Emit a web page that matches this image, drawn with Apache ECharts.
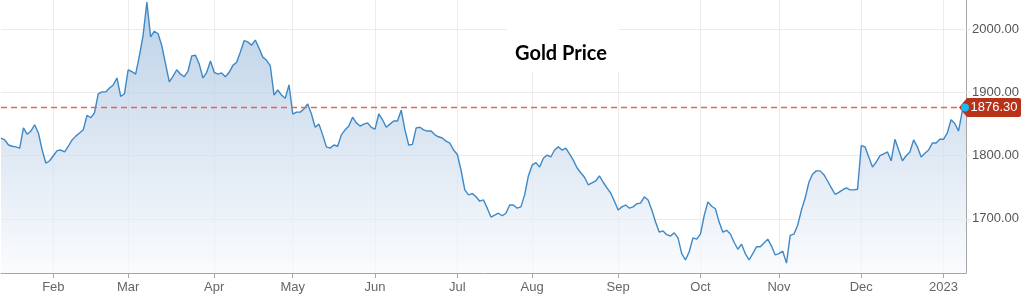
<!DOCTYPE html>
<html><head><meta charset="utf-8">
<script src="https://cdn.jsdelivr.net/npm/echarts@6/dist/echarts.min.js"></script>
<style>html,body{margin:0;padding:0;background:#fff}#c{width:1024px;height:298px}</style>
</head><body><div id="c"></div>
<script>
// Daily gold price (trading days)
const prices = [
1828,1825,1817,1815,1814,1812,1844,1834,1839,1849,
1836,1809,1788,1792,1800,1808,1809,1806,1815,1825,
1831,1836,1841,1864,1860,1868,1898,1901,1901,1907,
1912,1923,1894,1898,1936,1933,1929,1958,1991,2043,
1988,1997,1993,1974,1945,1917,1926,1936,1929,1925,
1934,1958,1959,1945,1923,1932,1950,1932,1929,1931,
1925,1932,1943,1948,1964,1982,1980,1975,1983,1970,
1956,1951,1942,1896,1904,1896,1891,1912,1866,1869,
1869,1874,1882,1866,1845,1850,1833,1814,1812,1817,
1815,1833,1841,1847,1861,1852,1847,1850,1852,1845,
1842,1866,1857,1845,1850,1855,1855,1872,1841,1817,
1818,1844,1845,1841,1839,1839,1833,1830,1828,1823,
1820,1809,1802,1777,1746,1738,1740,1735,1728,1730,
1717,1703,1706,1709,1705,1709,1722,1722,1717,1719,
1738,1768,1785,1789,1782,1796,1801,1798,1809,1814,
1809,1812,1803,1793,1781,1773,1766,1754,1757,1760,
1768,1758,1749,1741,1728,1714,1719,1722,1717,1719,
1724,1725,1735,1730,1714,1695,1679,1681,1675,1673,
1678,1670,1645,1635,1648,1670,1668,1676,1705,1727,
1720,1716,1695,1679,1682,1676,1663,1652,1660,1645,
1635,1645,1656,1656,1662,1668,1657,1643,1645,1649,
1630,1674,1676,1690,1714,1733,1758,1771,1776,1776,
1770,1760,1749,1739,1742,1746,1749,1746,1746,1747,
1816,1814,1798,1782,1790,1800,1803,1806,1792,1826,
1809,1792,1800,1806,1825,1814,1798,1804,1809,1820,
1820,1826,1826,1836,1857,1851,1839,1870,1876.3
];
// index of the first trading day of each month and its label
const monthTickIndex = [14,34,57,78,100,122,142,165,187,208,230,252];
const monthTickLabels = ['Feb','Mar','Apr','May','Jun','Jul','Aug','Sep','Oct','Nov','Dec','2023'];
const yTickValues = [1700,1800,1900,2000];
const yMin = 1614.4, yMax = 2046.4;
const lastPrice = 1876.30;
const titleText = 'Gold Price';

const categories = prices.map((_, i) => String(i));
const isTick = i => monthTickIndex.indexOf(Number(i)) >= 0;
const labelFor = v => { const k = monthTickIndex.indexOf(Number(v)); return k >= 0 ? monthTickLabels[k] : ''; };
const lastIdx = prices.length - 1;
const refColor = '#e36a4f';
// reference line: from first to last category at the last price
const refLineData = [[0, lastPrice], [lastIdx, lastPrice]];

const chart = echarts.init(document.getElementById('c'), null, {renderer: 'canvas'});
chart.setOption({
  animation: false,
  backgroundColor: '#fff',
  title: {
    text: titleText, left: 507, top: 0, padding: [42, 12, 6, 8], backgroundColor: '#fff', z: 10,
    textStyle: {fontFamily: 'Lato', fontWeight: 'bold', fontSize: 20, color: '#000', lineHeight: 24}
  },
  grid: {left: 1, right: 58, top: 0, bottom: 25, containLabel: false},
  xAxis: {
    type: 'category', data: categories, boundaryGap: false,
    axisLine: {lineStyle: {color: '#a6a6a6'}},
    axisTick: {interval: (i) => isTick(i), length: 5, lineStyle: {color: '#a6a6a6'}},
    axisLabel: {interval: (i) => isTick(i), formatter: (v) => labelFor(v), color: '#666', fontSize: 13, fontFamily: 'Liberation Sans', margin: 8},
    splitLine: {show: true, interval: (i) => isTick(i), lineStyle: {color: '#ebebeb'}}
  },
  yAxis: {
    type: 'value', position: 'right', min: yMin, max: yMax, scale: true,
    axisLine: {show: true, lineStyle: {color: '#a6a6a6'}},
    axisTick: {show: true, customValues: yTickValues, length: 4, lineStyle: {color: '#e3e3e3'}},
    axisLabel: {customValues: yTickValues, formatter: v => Number(v).toFixed(2), color: '#555', fontSize: 13, fontFamily: 'Liberation Sans', margin: 6},
    splitLine: {show: true, lineStyle: {color: '#ebebeb'}}
  },
  series: [{
    type: 'line', data: prices, symbol: 'none', showSymbol: false, z: 2,
    lineStyle: {color: '#3d88c6', width: 1.4},
    areaStyle: {origin: 'start', color: new echarts.graphic.LinearGradient(0, 0, 0, 1, [
      {offset: 0, color: '#a0bddd'}, {offset: 1, color: '#f8fafd'}])}
  }, {
    type: 'line', data: refLineData, color: refColor, z: 3, silent: true,
    symbol: 'none', showSymbol: false,
    lineStyle: {color: refColor, type: [6, 4], width: 1.6},
    markPoint: {
      silent: true, animation: false,
      data: [
        {coord: [lastIdx, lastPrice], symbol: 'path://M0,9.5L8,0L60,0Q62,0 62,2L62,17Q62,19 60,19L8,19Z',
         symbolSize: [62, 19], symbolKeepAspect: false, symbolOffset: [24, 0], itemStyle: {color: '#b8321a'},
         label: {show: true, position: 'inside', formatter: lastPrice.toFixed(2), color: '#fff', fontSize: 13, fontFamily: 'Liberation Sans', offset: [4, 0]}},
        {coord: [lastIdx, lastPrice], symbol: 'circle', symbolSize: 8, symbolOffset: [-1, 0],
         itemStyle: {color: '#1db8f7', borderWidth: 0}, label: {show: false}}
      ]
    }
  }]
});
</script>
</body></html>
